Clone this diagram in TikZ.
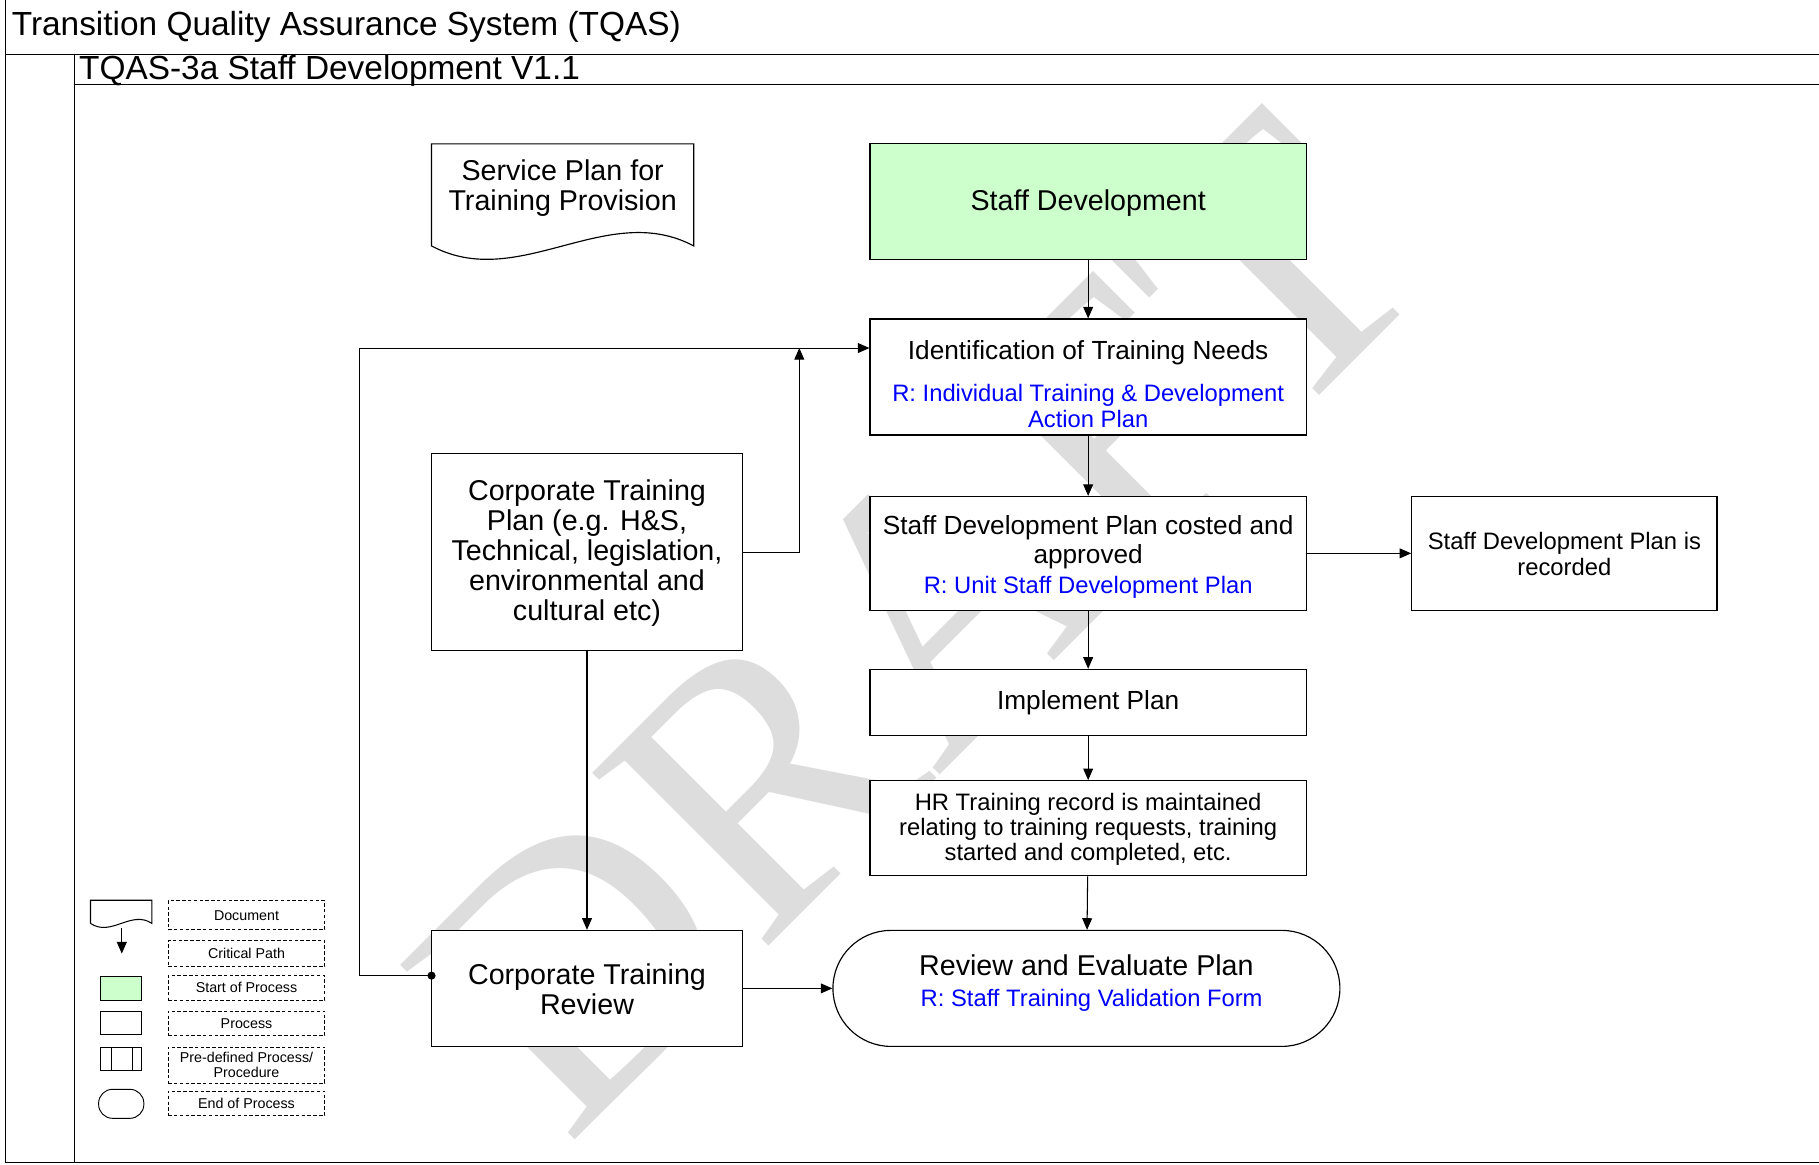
\documentclass[tikz,border=0pt]{standalone}
\usepackage{fontspec}
\setmainfont{Liberation Sans}
\newfontfamily\wmfont{Liberation Serif}
\usetikzlibrary{arrows.meta}
\definecolor{startgreen}{HTML}{CCFFCC}
\definecolor{wmgray}{HTML}{DDDDDD}
\definecolor{refblue}{HTML}{0000FF}
\newcommand{\szT}{\fontsize{28.8}{30}\selectfont}
\newcommand{\szA}{\fontsize{24.7}{25.8}\selectfont}
\newcommand{\szB}{\fontsize{22.6}{25}\selectfont}
\newcommand{\szC}{\fontsize{20.5}{21.8}\selectfont}
\newcommand{\szL}{\fontsize{12.3}{12.6}\selectfont}
\begin{document}
\begin{tikzpicture}[x=1pt,y=-1pt,
  box/.style={draw=black, line width=1pt, fill=white, inner sep=0pt},
  conn/.style={line width=0.9pt, -{Triangle[length=10pt,width=8.5pt]}},
  lbl/.style={inner sep=0pt, align=center},
  legbox/.style={draw=black, dashed, dash pattern=on 3pt off 2pt, line width=0.7pt, minimum width=135pt, inner sep=0pt, align=center, font=\szL},
  frame/.style={line width=1.2pt}
]
\useasboundingbox (0,0) rectangle (1568,1004);

% watermark
\node[inner sep=0pt, rotate=45, text=wmgray, font=\fontsize{325}{325}\selectfont\wmfont] (wm) at (790,537) {DRAFT};

% frame
\draw[frame] (5,0) -- (5,1002) -- (1568,1002);
\draw[frame] (5,47) -- (1568,47);
\draw[frame] (64,47) -- (64,1002);
\draw[frame] (64,73) -- (1568,73);
\node[lbl, anchor=west, font=\szT] (title) at (10,23) {Transition Quality Assurance System (TQAS)};
\node[lbl, anchor=west, font=\szT] (subtitle) at (68,61) {TQAS-3a Staff Development V1.1};

% document
\draw[line width=1pt, fill=white] (372,212) -- (372,124) -- (598,124) -- (598,212) .. controls (523,172) and (447,252) .. (372,212) -- cycle;
\node[lbl, font=\szA] (doc) at (485,162) {Service Plan for\\Training Provision};

% boxes
\node[box, fill=startgreen, minimum width=376pt, minimum height=100pt] (start) at (938,174) {};
\node[lbl, font=\szA] (startT) at (938,175) {Staff Development};

\node[box, minimum width=376pt, minimum height=100pt] (ident) at (938,325) {};
\node[lbl, font=\szB] (identT) at (938,304) {Identification of Training Needs};
\node[lbl, font=\szC, text=refblue] (identR) at (938,350) {R: Individual Training \& Development\\Action Plan};

\node[box, minimum width=376pt, minimum height=98pt] (costed) at (938,477) {};
\node[lbl, font=\szB] (costedT) at (938,467) {Staff Development Plan costed and\\approved};
\node[lbl, font=\szC, text=refblue] (costedR) at (938,506.5) {R: Unit Staff Development Plan};

\node[box, minimum width=263pt, minimum height=98pt] (recorded) at (1348.5,477) {};
\node[lbl, font=\szC] (recordedT) at (1348.5,477.5) {Staff Development Plan is\\recorded};

\node[box, minimum width=376pt, minimum height=57pt] (impl) at (938,605.5) {};
\node[lbl, font=\szB] (implT) at (938,605.5) {Implement Plan};

\node[box, minimum width=376pt, minimum height=82pt] (hr) at (938,714) {};
\node[lbl, font=\szC] (hrT) at (938,715) {HR Training record is maintained\\relating to training requests, training\\started and completed, etc.};

\node[box, minimum width=437pt, minimum height=100pt, rounded corners=50pt] (review) at (936.5,852) {};
\node[lbl, font=\szA] (reviewT) at (936.5,832) {Review and Evaluate Plan};
\node[lbl, font=\szC, text=refblue] (reviewR) at (941,862.5) {R: Staff Training Validation Form};

\node[box, minimum width=268pt, minimum height=100pt] (ctr) at (506,852) {};
\node[lbl, font=\szA] (ctrT) at (506,853) {Corporate Training\\Review};

\node[box, minimum width=268pt, minimum height=170pt] (ctp) at (506,476) {};
\node[lbl, font=\szA] (ctpT) at (506,477) {Corporate Training\\Plan (e.g. H\&S,\\Technical, legislation,\\environmental and\\cultural etc)};

% connectors
\coordinate (merge) at (689,300);
\coordinate (dot) at (372,841);
\draw[conn] (start) -- (ident);
\draw[conn] (ident) -- (costed);
\draw[conn] (costed) -- (impl);
\draw[conn] (impl) -- (hr);
\draw[conn] (hr) -- (review);
\draw[conn] (costed) -- (recorded);
\draw[conn] (ctp.east) -| (merge);
\draw[conn] (dot) -- ++(-62,0) |- ([yshift=25pt]ident.west);
\fill (dot) circle (3.5pt);
\draw[conn] (ctp) -- (ctr);
\draw[conn] (ctr) -- (review);

% legend
\draw[line width=0.9pt] (78,796) -- (78,776) -- (131,776) -- (131,796) .. controls (113,784) and (96,808) .. (78,796);
\coordinate (legA) at (105,800);
\coordinate (legB) at (105,822);
\draw[conn] (legA) -- (legB);
\node[box, fill=startgreen, minimum width=35pt, minimum height=20pt, line width=0.8pt] (legStart) at (104.5,852) {};
\node[box, minimum width=35pt, minimum height=20pt, line width=0.8pt] (legProc) at (104.5,882) {};
\node[box, minimum width=35pt, minimum height=20pt, line width=0.8pt] (legPre) at (104.5,912.5) {};
\draw[line width=0.8pt] (96,902.5) -- (96,922.5);
\draw[line width=0.8pt] (114,902.5) -- (114,922.5);
\node[box, minimum width=39pt, minimum height=25pt, rounded corners=12pt, line width=0.8pt] (legEnd) at (104.5,951.5) {};

\node[legbox, minimum height=25pt] (lDoc) at (212.5,789) {Document};
\node[legbox, minimum height=22pt] (lCrit) at (212.5,822) {Critical Path};
\node[legbox, minimum height=21pt] (lStart) at (212.5,851.5) {Start of Process};
\node[legbox, minimum height=21pt] (lProc) at (212.5,882) {Process};
\node[legbox, minimum height=31pt] (lPre) at (212.5,918) {Pre-defined Process/\\Procedure};
\node[legbox, minimum height=21pt] (lEnd) at (212.5,951) {End of Process};
\end{tikzpicture}
\end{document}
